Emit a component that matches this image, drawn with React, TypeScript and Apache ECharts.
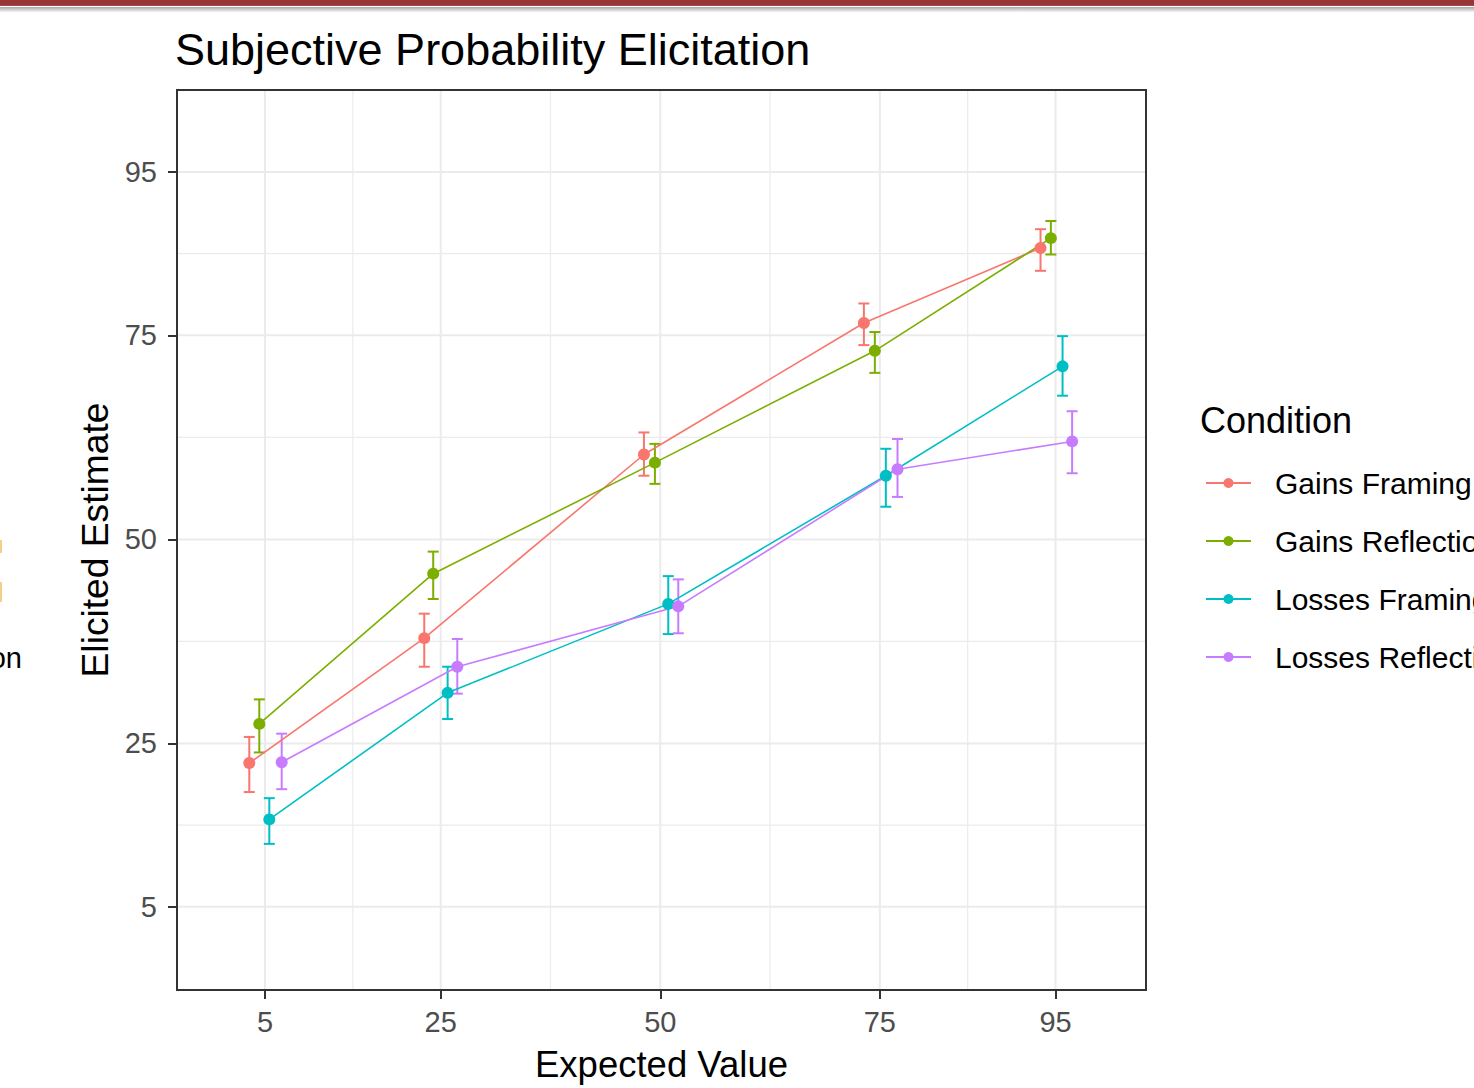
import React, { useEffect, useRef } from "react";
import * as echarts from "echarts";

const conditions = ["Gains Framing", "Gains Reflection", "Losses Framing", "Losses Reflection"];
const colors = ["#F8766D", "#7CAE00", "#00BFC4", "#C77CFF"];

const xTicks = [5, 25, 50, 75, 95];
const yTicks = [5, 25, 50, 75, 95];
const xMinor = [15, 37.5, 62.5, 85];
const yMinor = [15, 37.5, 62.5, 85];

// dodged x positions
const gfX = [3.21, 23.13, 48.14, 73.18, 93.29];
const grX = [4.35, 24.15, 49.39, 74.43, 94.47];
const lfX = [5.49, 25.79, 50.91, 75.68, 95.8];
const lrX = [6.9, 26.89, 52.05, 77.01, 96.89];

// means
const gfY = [22.6, 37.9, 60.4, 76.5, 85.7];
const grY = [27.4, 45.8, 59.4, 73.1, 86.9];
const lfY = [15.7, 31.2, 42.1, 57.8, 71.2];
const lrY = [22.7, 34.4, 41.8, 58.6, 62.0];

// error bar limits
const gfLo = [19.05, 34.4, 57.8, 73.8, 82.9];
const gfHi = [25.8, 40.9, 63.1, 78.9, 88.0];
const grLo = [23.9, 42.7, 56.8, 70.4, 84.9];
const grHi = [30.4, 48.5, 61.7, 75.4, 89.0];
const lfLo = [12.7, 28.0, 38.4, 54.0, 67.6];
const lfHi = [18.3, 34.4, 45.5, 61.1, 74.9];
const lrLo = [19.4, 31.1, 38.5, 55.2, 58.1];
const lrHi = [26.2, 37.8, 45.1, 62.3, 65.7];

const xs = [gfX, grX, lfX, lrX];
const ys = [gfY, grY, lfY, lrY];
const los = [gfLo, grLo, lfLo, lrLo];
const his = [gfHi, grHi, lfHi, lrHi];

const X_MIN = -5.02;
const X_MAX = 105.3;
const Y_MIN = -5.2;
const Y_MAX = 105.05;

const FONT = "Liberation Sans, Arial, Helvetica, sans-serif";

export default function App() {
  const ref = useRef<HTMLDivElement>(null);

  useEffect(() => {
    if (!ref.current) return;
    const chart = echarts.init(ref.current, null, { renderer: "svg" });

    const gridLineSeries = (vals: number[], dir: "x" | "y", width: number, name: string) => ({
      type: "custom",
      name,
      silent: true,
      z: 1,
      tooltip: { show: false },
      data: vals.map((v) => (dir === "x" ? [v, 50] : [50, v])),
      encode: { x: 0, y: 1 },
      renderItem: (params: any, api: any) => {
        const cs = params.coordSys;
        const p = api.coord([api.value(0), api.value(1)]);
        const shape =
          dir === "x"
            ? { x1: p[0], y1: cs.y + 1, x2: p[0], y2: cs.y + cs.height - 1 }
            : { x1: cs.x + 1, y1: p[1], x2: cs.x + cs.width - 1, y2: p[1] };
        return { type: "line", shape, style: { stroke: "#EBEBEB", lineWidth: width } };
      },
    });

    const lineSeries = conditions.map((c, i) => ({
      type: "line",
      name: c,
      z: 4,
      data: xs[i].map((x, j) => [x, ys[i][j]]),
      symbol: "circle",
      symbolSize: 12,
      showSymbol: true,
      lineStyle: { color: colors[i], width: 1.6 },
      itemStyle: { color: colors[i] },
    }));

    const errSeries = conditions.map((c, i) => ({
      type: "custom",
      name: c,
      z: 3,
      data: xs[i].map((x, j) => [x, los[i][j], his[i][j]]),
      encode: { x: 0, y: [1, 2] },
      renderItem: (params: any, api: any) => {
        const x = api.value(0);
        const pLo = api.coord([x, api.value(1)]);
        const pHi = api.coord([x, api.value(2)]);
        const w = 5.5;
        const style = { stroke: colors[i], lineWidth: 2, fill: "none" };
        return {
          type: "group",
          children: [
            { type: "line", shape: { x1: pLo[0], y1: pLo[1], x2: pHi[0], y2: pHi[1] }, style },
            { type: "line", shape: { x1: pLo[0] - w, y1: pLo[1], x2: pLo[0] + w, y2: pLo[1] }, style },
            { type: "line", shape: { x1: pHi[0] - w, y1: pHi[1], x2: pHi[0] + w, y2: pHi[1] }, style },
          ],
        };
      },
    }));

    chart.setOption({
      animation: false,
      backgroundColor: "#FFFFFF",
      textStyle: { fontFamily: FONT },
      title: {
        text: "Subjective Probability Elicitation",
        left: 175,
        top: 27,
        padding: 0,
        textStyle: { fontSize: 45, fontWeight: "normal", color: "#000000", fontFamily: FONT },
      },
      grid: {
        left: 177,
        top: 90,
        width: 969,
        height: 900,
        show: true,
        borderColor: "#333333",
        borderWidth: 2,
        backgroundColor: "#FFFFFF",
        containLabel: false,
      },
      legend: {
        data: conditions,
        orient: "vertical",
        left: 1205,
        top: 468,
        padding: 0,
        itemWidth: 45,
        itemHeight: 12.5,
        itemGap: 28,
        textStyle: { fontSize: 30, color: "#000000", fontFamily: FONT, lineHeight: 30, padding: [0, 0, 0, 19] },
      },
      xAxis: {
        type: "value",
        min: X_MIN,
        max: X_MAX,
        name: "Expected Value",
        nameLocation: "middle",
        nameGap: 56,
        nameTextStyle: { fontSize: 36.5, color: "#000000", fontFamily: FONT },
        axisLine: { show: false, onZero: false },
        axisTick: { show: true, customValues: xTicks, length: 9, lineStyle: { color: "#333333", width: 2 } },
        axisLabel: { customValues: xTicks, fontSize: 29, color: "#4D4D4D", margin: 17, fontFamily: FONT },
        splitLine: { show: false },
      },
      yAxis: {
        type: "value",
        min: Y_MIN,
        max: Y_MAX,
        name: "Elicited Estimate",
        nameLocation: "middle",
        nameGap: 57,
        nameTextStyle: { fontSize: 37.2, color: "#000000", fontFamily: FONT },
        axisLine: { show: false, onZero: false },
        axisTick: { show: true, customValues: yTicks, length: 9, lineStyle: { color: "#333333", width: 2 } },
        axisLabel: { customValues: yTicks, fontSize: 29, color: "#4D4D4D", margin: 20, fontFamily: FONT },
        splitLine: { show: false },
      },
      graphic: [
        { type: "rect", left: 0, top: 0, shape: { width: 1474, height: 5 }, style: { fill: "#973636" } },
        { type: "rect", left: 0, top: 5, shape: { width: 1474, height: 1 }, style: { fill: "#B04848" } },
        {
          type: "rect",
          left: 0,
          top: 7,
          shape: { width: 1474, height: 5 },
          style: {
            fill: new echarts.graphic.LinearGradient(0, 0, 0, 1, [
              { offset: 0, color: "#A8A8A8" },
              { offset: 1, color: "#F4F4F4" },
            ]),
          },
        },
        {
          type: "text",
          left: 1200,
          top: 402,
          style: { text: "Condition", fontSize: 36, fill: "#000000", fontFamily: FONT },
        },
        {
          type: "text",
          x: 22,
          y: 658,
          style: { text: "on", fontSize: 29, fill: "#000000", fontFamily: FONT, align: "right", verticalAlign: "middle" },
        },
        { type: "rect", left: 0, top: 540, shape: { width: 2, height: 13 }, style: { fill: "#F2D08A" } },
        { type: "rect", left: 0, top: 582, shape: { width: 2, height: 20 }, style: { fill: "#F2D08A" } },
      ],
      series: [
        ...lineSeries,
        gridLineSeries(xMinor, "x", 1.2, "gx-minor"),
        gridLineSeries(yMinor, "y", 1.2, "gy-minor"),
        gridLineSeries(xTicks, "x", 2, "gx-major"),
        gridLineSeries(yTicks, "y", 2, "gy-major"),
        ...errSeries,
      ],
    });

    return () => chart.dispose();
  }, []);

  return (
    <div
      ref={ref}
      style={{ position: "absolute", left: 0, top: 0, width: 1474, height: 1088, background: "#FFFFFF" }}
    />
  );
}
